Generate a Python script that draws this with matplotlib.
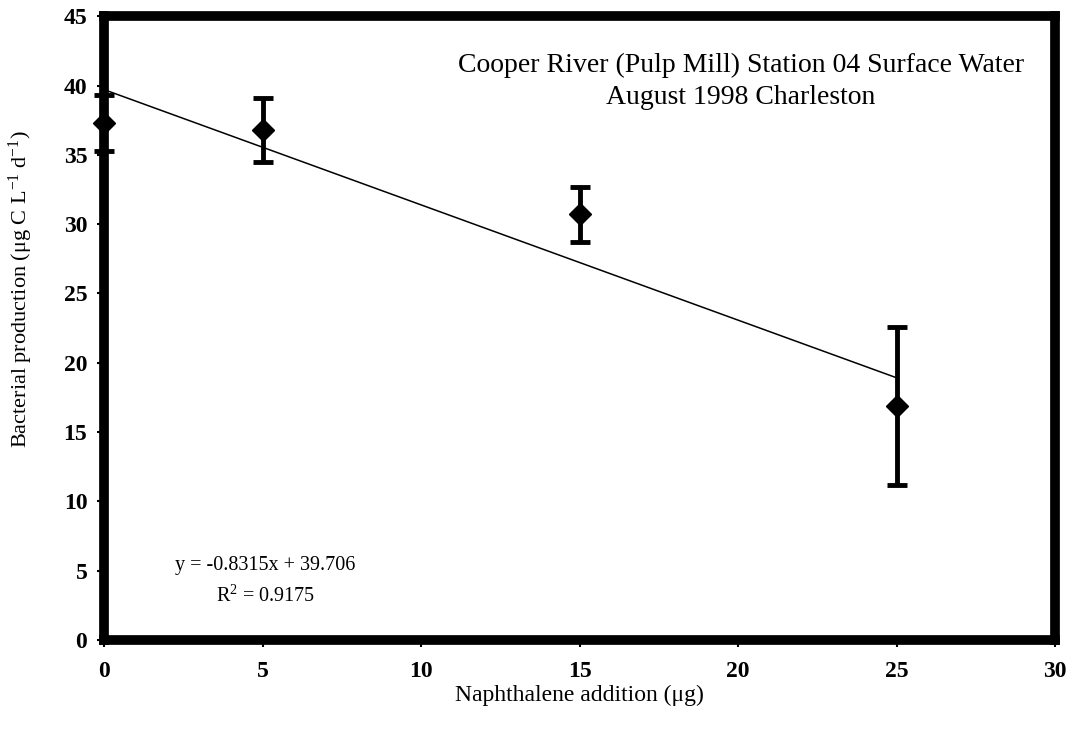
import numpy as np
import matplotlib.pyplot as plt

# naphthalene additions and measured bacterial production
naph = [0, 5, 15, 25]
prod = [37.3, 36.8, 30.7, 16.9]
err = [2.0, 2.3, 2.0, 5.7]

slope = -0.8315
intercept = 39.706
r2 = 0.9175

plt.rcParams['font.family'] = ['Liberation Serif', 'DejaVu Serif']
plt.rcParams['mathtext.fontset'] = 'custom'
plt.rcParams['mathtext.rm'] = 'Liberation Serif'
plt.rcParams['mathtext.it'] = 'Liberation Serif:italic'
plt.rcParams['mathtext.bf'] = 'Liberation Serif:bold'

fig = plt.figure(figsize=(10.7, 7.36), dpi=100)
ax = fig.add_axes([0.0972, 0.1304, 0.8888, 0.8476])

ax.errorbar(naph, prod, yerr=err, fmt='D', color='black', ms=11.5,
            elinewidth=3.5, capsize=7, capthick=3.5, zorder=3, clip_on=False)

xl = np.array([naph[0], naph[-1]])
ax.plot(xl, slope * xl + intercept, color='black', lw=1.1, zorder=2)

ax.set_xlim(0, 30)
ax.set_ylim(0, 45)
ax.set_xticks(range(0, 31, 5))
ax.set_yticks(range(0, 46, 5))
for s in ax.spines.values():
    s.set_linewidth(7)
ax.tick_params(direction='out', length=5, width=1.5, labelsize=17)
ax.tick_params(axis='y', pad=7)
ax.tick_params(axis='x', pad=10)
for lab in ax.get_xticklabels() + ax.get_yticklabels():
    lab.set_fontweight('bold')

ax.set_xlabel('Naphthalene addition (\u03bcg)', fontsize=17, labelpad=2)
ax.set_ylabel('Bacterial production (\u03bcg C L$^{\\mathrm{-1}}$ d$^{\\mathrm{-1}}$)',
              fontsize=16)
ax.yaxis.set_label_coords(-0.073, 0.5625)

ax.text(0.67, 0.895, 'Cooper River (Pulp Mill) Station 04 Surface Water\nAugust 1998 Charleston',
        transform=ax.transAxes, ha='center', va='center', fontsize=20, linespacing=1.37)
ax.text(0.17, 0.094, 'y = -0.8315x + 39.706\nR$^2$ = %.4f' % r2, transform=ax.transAxes,
        ha='center', va='center', fontsize=14.5, linespacing=1.6)

fig.savefig('out.png', dpi=100)
